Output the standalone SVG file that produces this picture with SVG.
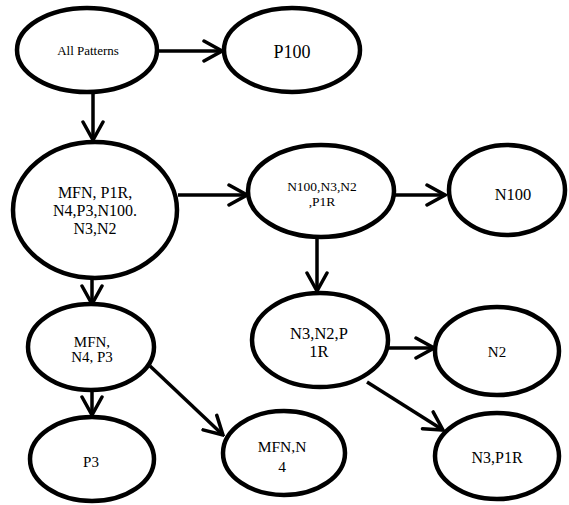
<svg xmlns="http://www.w3.org/2000/svg" width="569" height="505" viewBox="0 0 569 505">
<style>
.n ellipse{fill:#fff;stroke:#000;stroke-width:4.5}
.n text{font-family:'Liberation Serif','DejaVu Serif','Times New Roman',serif;fill:#000;text-anchor:middle}
.c line{stroke:#000;stroke-width:3.5;fill:none}
</style>
<defs>
<marker id="a" viewBox="0 0 22 24" refX="20" refY="12" markerWidth="22" markerHeight="24" markerUnits="userSpaceOnUse" orient="auto">
<path d="M2,2 L20,12 L2,22" fill="none" stroke="#000" stroke-width="3.5" stroke-linecap="round" stroke-linejoin="miter"/>
</marker>
</defs>
<rect width="569" height="505" fill="#fff"/>
<g class="c">
<line x1="159" y1="51" x2="222" y2="51" marker-end="url(#a)"/>
<line x1="93" y1="93" x2="93" y2="140" marker-end="url(#a)"/>
<line x1="178" y1="195" x2="247" y2="195" marker-end="url(#a)"/>
<line x1="395" y1="195" x2="445" y2="195" marker-end="url(#a)"/>
<line x1="317" y1="238" x2="317" y2="291" marker-end="url(#a)"/>
<line x1="387" y1="348" x2="434" y2="348" marker-end="url(#a)"/>
<line x1="367" y1="382" x2="443" y2="430" marker-end="url(#a)"/>
<line x1="92" y1="279" x2="92" y2="304" marker-end="url(#a)"/>
<line x1="92" y1="391" x2="92" y2="415" marker-end="url(#a)"/>
<line x1="150" y1="366" x2="223" y2="435" marker-end="url(#a)"/>
</g>
<g id="all" class="n"><ellipse cx="87" cy="50" rx="70" ry="42"/><text x="88" y="55" font-size="13">All Patterns</text></g>
<g id="p100" class="n"><ellipse cx="292" cy="50" rx="68" ry="42"/><text x="292" y="58" font-size="18">P100</text></g>
<g id="big" class="n"><ellipse cx="95" cy="210" rx="82" ry="68"/><text font-size="16"><tspan x="95" y="198">MFN, P1R,</tspan><tspan x="95" y="216">N4,P3,N100.</tspan><tspan x="95" y="234">N3,N2</tspan></text></g>
<g id="n100set" class="n"><ellipse cx="321" cy="191" rx="73" ry="46"/><text font-size="13.5"><tspan x="322" y="191">N100,N3,N2</tspan><tspan x="322" y="206">,P1R</tspan></text></g>
<g id="n100" class="n"><ellipse cx="507" cy="190" rx="58" ry="45"/><text x="513" y="200" font-size="16.5">N100</text></g>
<g id="mfnn4p3" class="n"><ellipse cx="91" cy="347" rx="63" ry="43"/><text font-size="15"><tspan x="92" y="347">MFN,</tspan><tspan x="92" y="362">N4, P3</tspan></text></g>
<g id="n3n2p1r" class="n"><ellipse cx="320" cy="340" rx="68" ry="47"/><text font-size="16.5"><tspan x="319" y="339">N3,N2,P</tspan><tspan x="319" y="357">1R</tspan></text></g>
<g id="n2" class="n"><ellipse cx="497" cy="351" rx="62" ry="44"/><text x="497" y="357" font-size="15">N2</text></g>
<g id="p3" class="n"><ellipse cx="92" cy="459" rx="62" ry="42"/><text x="91" y="467" font-size="15">P3</text></g>
<g id="mfnn4" class="n"><ellipse cx="284" cy="453" rx="61" ry="42"/><text font-size="15.5"><tspan x="282" y="452">MFN,N</tspan><tspan x="282" y="472">4</tspan></text></g>
<g id="n3p1r" class="n"><ellipse cx="497" cy="456" rx="62" ry="43"/><text x="497" y="463" font-size="16">N3,P1R</text></g>
</svg>
